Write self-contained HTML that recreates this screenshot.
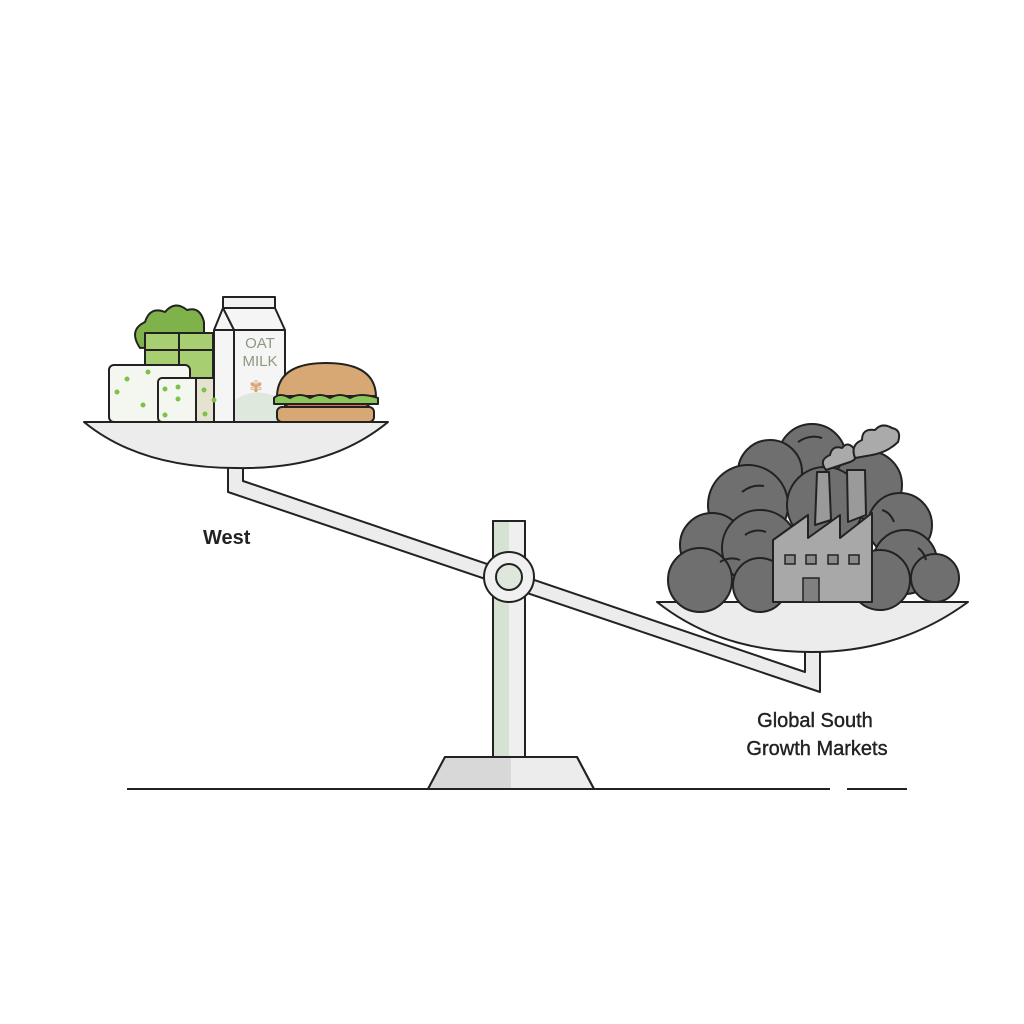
<!DOCTYPE html>
<html><head><style>
html,body{margin:0;padding:0;background:#fff}
svg{display:block}
text{font-family:"Liberation Sans",sans-serif}
</style></head><body>
<svg width="1024" height="1024" viewBox="0 0 1024 1024" xmlns="http://www.w3.org/2000/svg">
<defs><clipPath id="bc"><polygon points="445,757 577,757 594,789 428,789"/></clipPath></defs>
<g stroke="#222" stroke-width="2" stroke-linejoin="round">
<!-- ground -->
<line x1="127" y1="789" x2="830" y2="789"/>
<line x1="847" y1="789" x2="907" y2="789"/>
<!-- base -->
<polygon points="445,757 577,757 594,789 428,789" fill="#ececec"/>
<rect x="420" y="757" width="91" height="32" fill="#d8d8d8" stroke="none" clip-path="url(#bc)"/>
<polygon points="445,757 577,757 594,789 428,789" fill="none"/>
<!-- pillar -->
<rect x="493" y="521" width="32" height="236" fill="#efefef"/>
<rect x="494" y="522" width="15" height="234" fill="#d6e2d2" stroke="none"/>
<rect x="493" y="521" width="32" height="236" fill="none"/>
<!-- beam -->
<polygon points="228,465 243,465 243,481 805,672 805,640 820,640 820,692 228,492" fill="#ececec"/>
<!-- pivot -->
<circle cx="509" cy="577" r="25" fill="#f0f0f0"/>
<circle cx="509" cy="577" r="13" fill="#dfe6dc"/>
<!-- left pan -->
<path d="M84,422 L388,422 Q330,470 236,468 Q140,468 84,422 Z" fill="#ececec"/>
<!-- right pan -->
<path d="M657,602 L968,602 Q900,652 812,652 Q720,652 657,602 Z" fill="#ececec"/>
</g>

<!-- food -->
<g stroke="#222" stroke-width="2" stroke-linejoin="round">
<path d="M140,348 Q128,330 145,322 Q150,306 165,312 Q175,300 187,310 Q200,306 204,322 L204,345 Z" fill="#7fb24a"/>
<rect x="145" y="333" width="68" height="45" fill="#a7cf72"/>
<line x1="179" y1="333" x2="179" y2="378"/><line x1="145" y1="350" x2="213" y2="350"/>
<rect x="109" y="365" width="81" height="57" rx="5" fill="#f4f6f0"/>
<rect x="158" y="378" width="64" height="44" rx="4" fill="#f4f6f0"/>
<rect x="196" y="378" width="26" height="44" fill="#e6e2d2"/>
<rect x="223" y="297" width="52" height="11" fill="#f2f2f2"/>
<polygon points="214,330 223,308 275,308 285,330 285,422 214,422" fill="#f5f5f5"/>
<line x1="234" y1="330" x2="234" y2="422"/><line x1="214" y1="330" x2="285" y2="330"/><line x1="234" y1="330" x2="223" y2="308"/>
<path d="M235,400 Q255,385 284,400 L284,421 L235,421Z" fill="#dfe8dc" stroke="none"/>
<path d="M277,396 Q278,363 326,363 Q375,363 376,396 Z" fill="#d8a874"/>
<path d="M274,398 Q280,392 290,398 Q300,392 310,398 Q320,392 330,398 Q340,392 350,398 Q360,392 378,398 L378,404 L274,404 Z" fill="#8cc65a"/>
<path d="M285,404 L370,404 L362,410 L290,410Z" fill="#e86a60"/>
<rect x="277" y="407" width="97" height="15" rx="5" fill="#d8a874"/>
</g>
<g fill="#7cc24a">
<circle cx="127" cy="379" r="2.5"/><circle cx="148" cy="372" r="2.5"/><circle cx="117" cy="392" r="2.5"/><circle cx="143" cy="405" r="2.5"/><circle cx="165" cy="389" r="2.5"/><circle cx="165" cy="415" r="2.5"/><circle cx="178" cy="399" r="2.5"/>
<circle cx="178" cy="387" r="2.5"/><circle cx="204" cy="390" r="2.5"/><circle cx="214" cy="400" r="2.5"/><circle cx="205" cy="414" r="2.5"/>
</g>
<text x="260" y="348" font-size="15" fill="#8a9a80" text-anchor="middle">OAT</text>
<text x="260" y="366" font-size="15" fill="#8a9a80" text-anchor="middle">MILK</text>
<text x="256" y="392" font-size="16" fill="#d8a070" text-anchor="middle">✾</text>

<!-- coal -->
<g fill="#6f6f6f" stroke="#222" stroke-width="2">
<circle cx="812" cy="458" r="34"/>
<circle cx="770" cy="472" r="32"/>
<circle cx="868" cy="485" r="34"/>
<circle cx="748" cy="505" r="40"/>
<circle cx="825" cy="505" r="38"/>
<circle cx="900" cy="525" r="32"/>
<circle cx="712" cy="545" r="32"/>
<circle cx="760" cy="548" r="38"/>
<circle cx="905" cy="562" r="32"/>
<circle cx="700" cy="580" r="32"/>
<circle cx="935" cy="578" r="24"/>
<circle cx="880" cy="580" r="30"/>
<circle cx="760" cy="585" r="27"/>
</g>
<g fill="none" stroke="#222" stroke-width="2">
<path d="M798,442 Q810,434 822,438"/><path d="M742,492 Q752,484 764,486"/><path d="M720,562 Q730,556 740,560"/>
<path d="M882,510 Q890,512 894,522"/><path d="M918,548 Q924,552 926,560"/><path d="M745,535 Q755,528 766,532"/>
</g>
<!-- factory -->
<g stroke="#222" stroke-width="2" stroke-linejoin="round">
<path d="M826,470 Q818,460 830,455 Q832,445 842,448 Q848,440 855,450 Q860,458 850,462 Z" fill="#aaa"/>
<path d="M855,458 Q850,445 862,440 Q862,428 875,430 Q882,422 892,428 Q902,430 898,442 Q888,452 872,455 Z" fill="#aaa"/>
<polygon points="817,472 829,472 831,520 815,525" fill="#9a9a9a"/>
<polygon points="847,470 865,470 866,515 848,522" fill="#9a9a9a"/>
<polygon points="773,602 773,540 808,515 808,538 840,515 840,538 872,513 872,602" fill="#a8a8a8"/>
</g>
<g fill="#8a8a8a" stroke="#222" stroke-width="1.5">
<rect x="785" y="555" width="10" height="9"/><rect x="806" y="555" width="10" height="9"/><rect x="828" y="555" width="10" height="9"/><rect x="849" y="555" width="10" height="9"/>
<rect x="803" y="578" width="16" height="24" fill="#808080"/>
</g>

<text x="203" y="544" font-size="20" font-weight="bold" fill="#222">West</text>
<text x="815" y="727" font-size="20" fill="#222" stroke="#222" stroke-width="0.4" text-anchor="middle">Global South</text>
<text x="817" y="755" font-size="20" fill="#222" stroke="#222" stroke-width="0.4" text-anchor="middle">Growth Markets</text>
</svg>
</body></html>
